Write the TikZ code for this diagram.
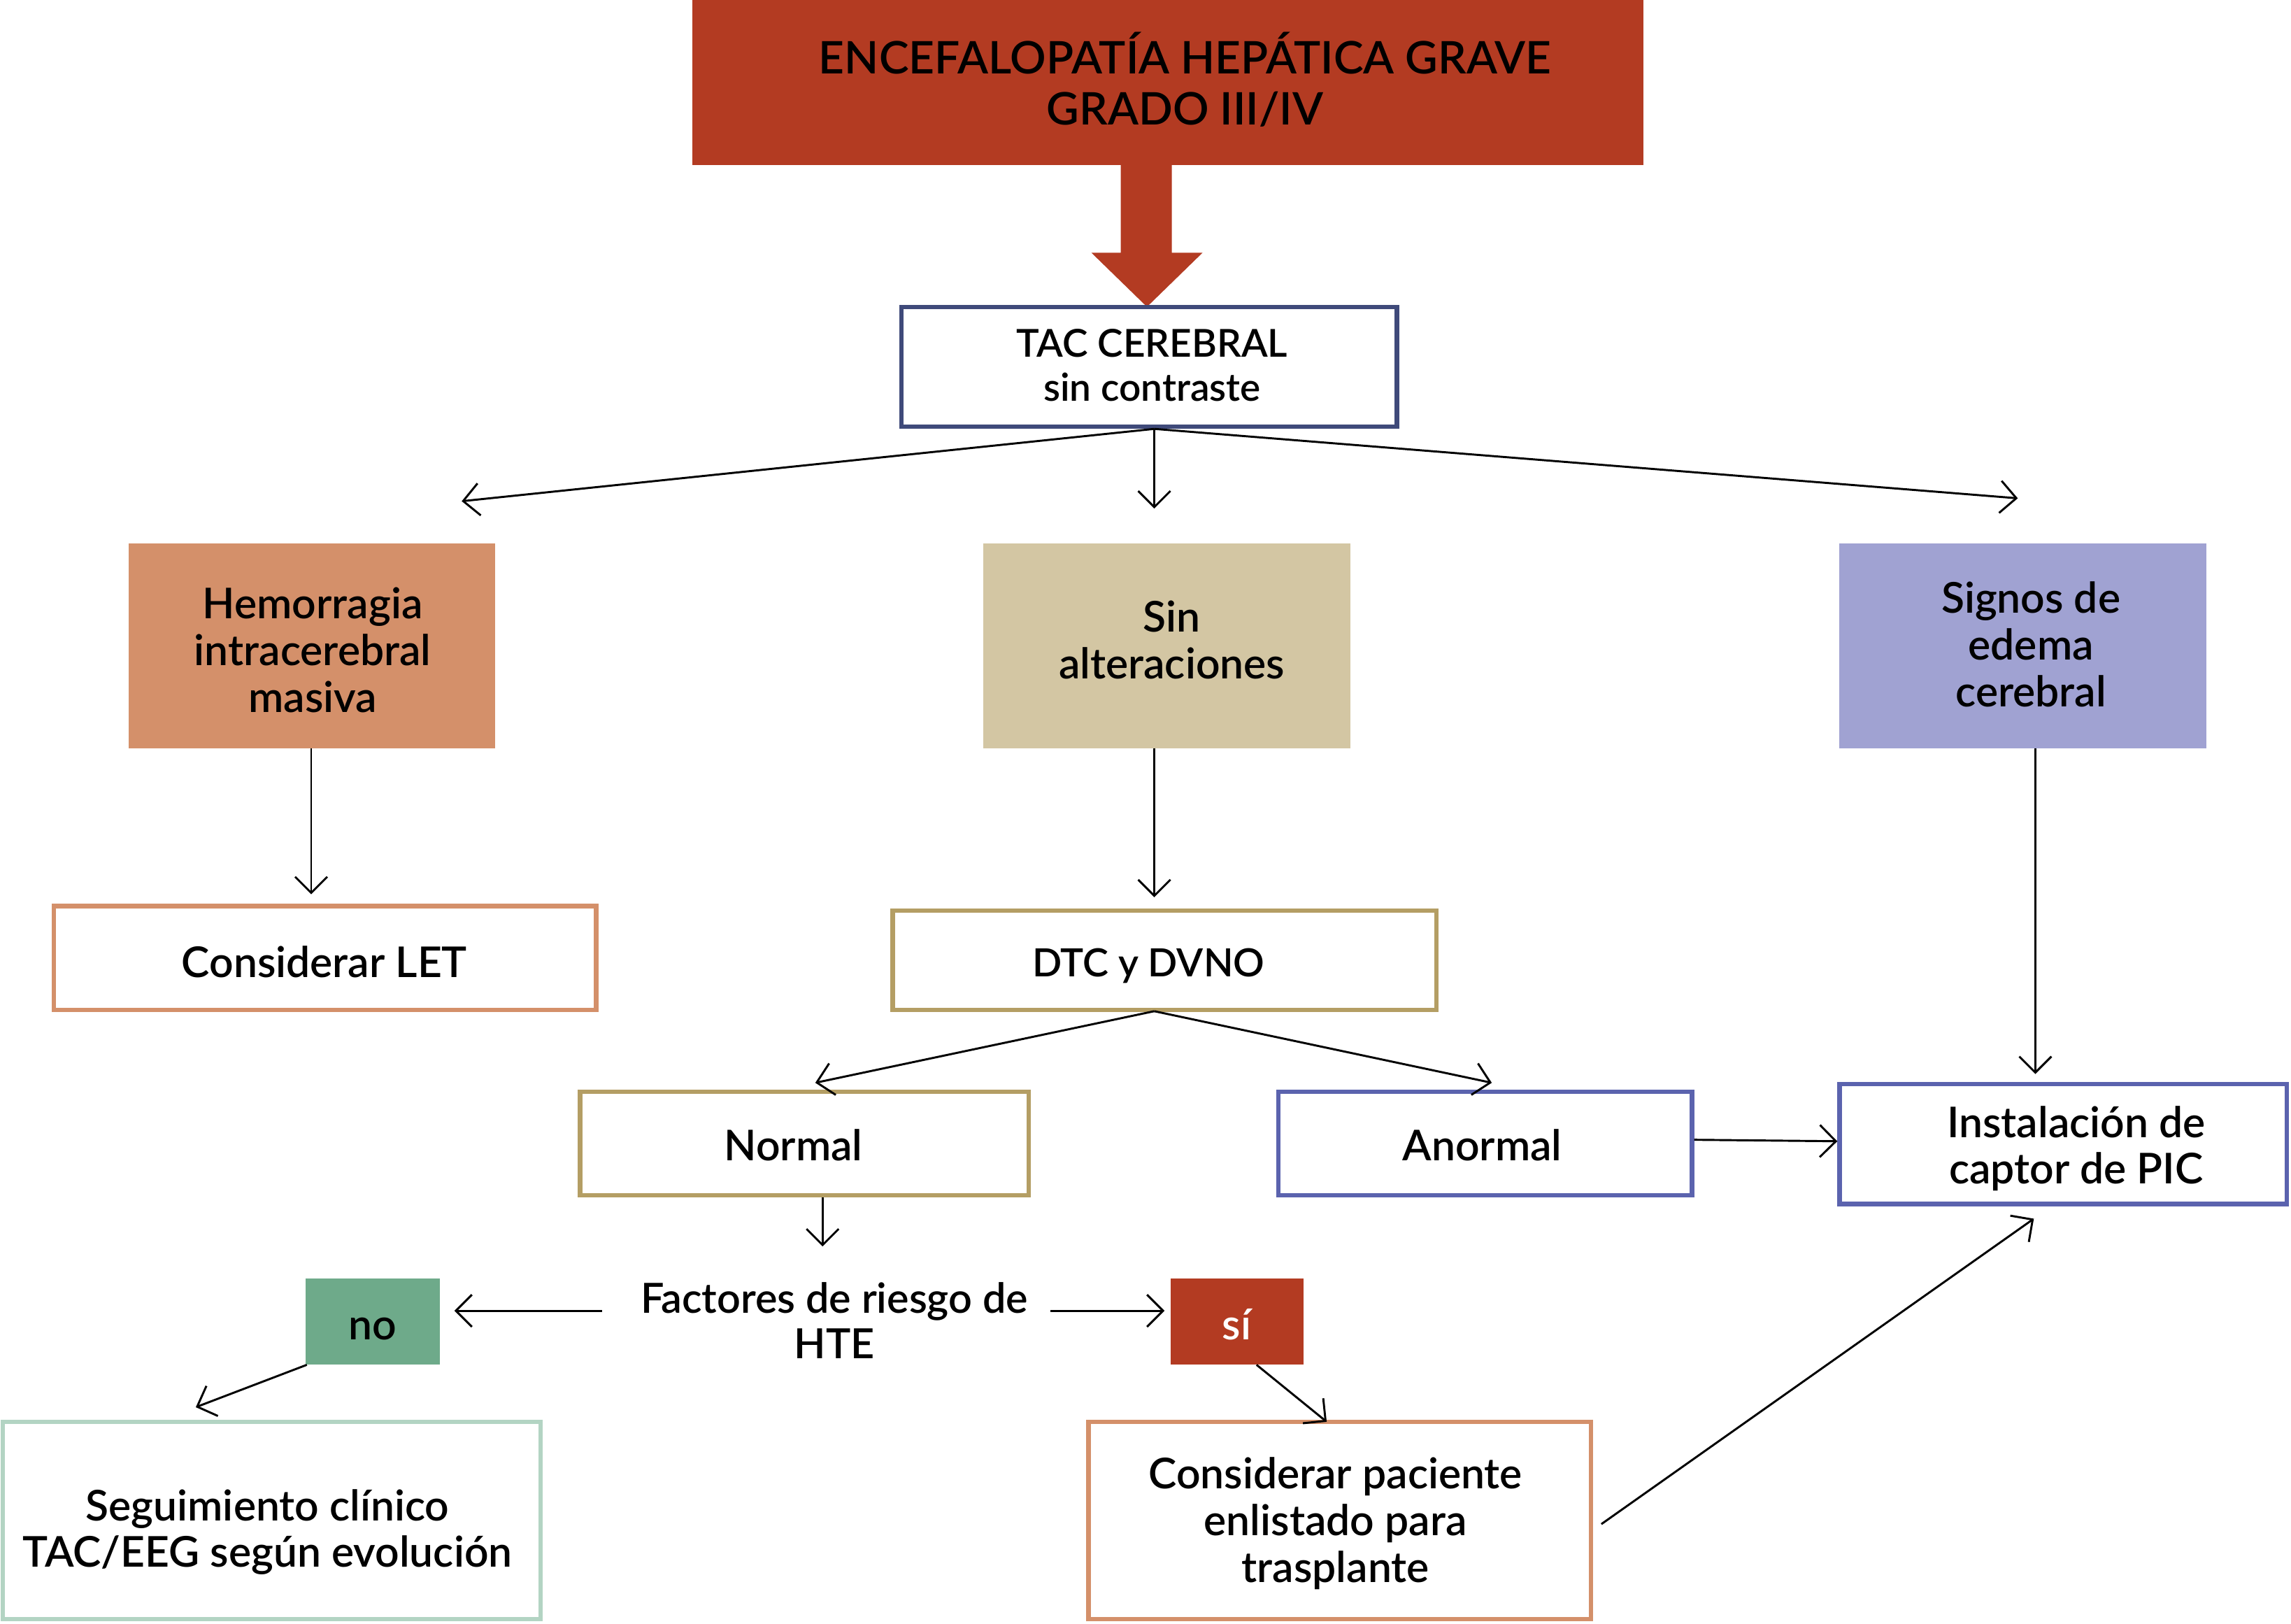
\documentclass[tikz,border=0pt]{standalone}
\usepackage{fontspec}
\setmainfont{Lato}[UprightFont={* Semibold}]
\usetikzlibrary{arrows.meta}
\definecolor{brick}{HTML}{B33B22}
\definecolor{navy}{HTML}{3F4A7A}
\definecolor{hemo}{HTML}{D4906A}
\definecolor{sand}{HTML}{D3C6A3}
\definecolor{lilac}{HTML}{A0A2D2}
\definecolor{gold}{HTML}{B49E64}
\definecolor{bluebd}{HTML}{5B63AE}
\definecolor{greenf}{HTML}{6EAA8A}
\definecolor{mint}{HTML}{B3D4C3}
\tikzset{
  txt/.style={font=\fontsize{29}{32}\selectfont, align=center, text=black, inner sep=0pt},
  fillbox/.style={draw=none, inner sep=0pt},
  linebox/.style={draw, line width=3pt, fill=white, inner sep=0pt},
  arr/.style={line width=1.4pt, -{Straight Barb[length=11pt,width=22pt,line width=1.4pt]}}
}
\begin{document}
\begin{tikzpicture}[x=1pt,y=-1pt]
\useasboundingbox (0,0) rectangle (1568,1111);
% title
\node[fillbox, fill=brick, minimum width=651pt, minimum height=113pt] (title) at (799.5,56.5) {};
\node[txt, font=\fontsize{30.7}{35}\selectfont] (titletxt) at (811,54.5) {ENCEFALOPATÍA HEPÁTICA GRAVE\\GRADO III/IV};
% big arrow
\fill[brick] (767,113) -- (767,173) -- (747,173) -- (785,210) -- (823,173) -- (802,173) -- (802,113) -- cycle;
% TAC
\node[linebox, draw=navy, minimum width=339pt, minimum height=82pt] (tac) at (786.5,251) {};
\node[txt, font=\fontsize{26.3}{30}\selectfont] (tactxt) at (788.5,250) {TAC CEREBRAL\\sin contraste};
% level 2
\node[fillbox, fill=hemo, minimum width=251pt, minimum height=140pt] (hem) at (213.5,442) {};
\node[txt] (hemtxt) at (214,445) {Hemorragia\\intracerebral\\masiva};
\node[fillbox, fill=sand, minimum width=251pt, minimum height=140pt] (sin) at (798.5,442) {};
\node[txt] (sintxt) at (802,438) {Sin\\alteraciones};
\node[fillbox, fill=lilac, minimum width=251pt, minimum height=140pt] (sig) at (1384.5,442) {};
\node[txt] (sigtxt) at (1390,441) {Signos de\\edema\\cerebral};
\coordinate (tl) at (316,343);
\coordinate (tm) at (790,348);
\coordinate (tr) at (1381,341);
\draw[arr] ([xshift=3.5pt]tac.south) -- (tl);
\draw[arr] ([xshift=3.5pt]tac.south) -- (tm);
\draw[arr] ([xshift=3.5pt]tac.south) -- (tr);
% level 3
\node[linebox, draw=hemo, minimum width=371pt, minimum height=71pt] (let) at (222.5,655.5) {};
\node[txt] (lettxt) at (222,658.5) {Considerar LET};
\node[linebox, draw=gold, minimum width=372pt, minimum height=68pt] (dtc) at (797,657) {};
\node[txt, font=\fontsize{26.6}{32}\selectfont] (dtctxt) at (786,661) {DTC y DVNO};
\node[linebox, draw=bluebd, minimum width=306pt, minimum height=82pt] (ins) at (1412,783) {};
\node[txt] (instxt) at (1421,786) {Instalación de\\captor de PIC};
\coordinate (hl) at (213,612);
\coordinate (sl) at (790,614);
\coordinate (gl) at (1393,735);
\draw[arr] ([xshift=-0.5pt]hem.south) -- (hl);
\draw[arr] ([xshift=-8.5pt]sin.south) -- (sl);
\draw[arr] ([xshift=8.5pt]sig.south) -- (gl);
% level 4
\node[linebox, draw=gold, minimum width=307pt, minimum height=71pt] (nor) at (550.5,782.5) {};
\node[txt] (nortxt) at (543,783.5) {Normal};
\node[linebox, draw=bluebd, minimum width=283pt, minimum height=71pt] (anor) at (1016.5,782.5) {};
\node[txt] (anortxt) at (1014.5,783.5) {Anormal};
\coordinate (dtcb) at (790,692);
\coordinate (nl) at (558,741);
\coordinate (al) at (1021,741);
\draw[arr] (dtcb) -- (nl);
\draw[arr] (dtcb) -- (al);
\draw[arr] ([yshift=2.5pt]anor.east) -- ([yshift=2pt]ins.west);
% factores
\node[txt, font=\fontsize{28.4}{31}\selectfont] (fac) at (571,903.5) {Factores de riesgo de\\HTE};
\coordinate (nd) at (563,853);
\draw[arr] ([xshift=12.5pt]nor.south) -- (nd);
\node[fillbox, fill=greenf, minimum width=92pt, minimum height=59pt] (no) at (255,904.5) {};
\node[txt] (notxt) at (255,909.5) {no};
\node[fillbox, fill=brick, minimum width=91pt, minimum height=59pt] (si) at (846.5,904.5) {};
\node[txt, text=white] (sitxt) at (846.5,906.5) {sí};
\coordinate (fl) at (412,897);
\coordinate (fr) at (719,897);
\coordinate (nt) at (311,897);
\coordinate (st) at (797,897);
\draw[arr] (fl) -- (nt);
\draw[arr] (fr) -- (st);
% bottom boxes
\node[linebox, draw=mint, minimum width=368pt, minimum height=135pt] (seg) at (186,1040.5) {};
\node[txt] (segtxt) at (183,1048.5) {Seguimiento clínico\\TAC/EEG según evolución};
\node[linebox, draw=hemo, minimum width=344pt, minimum height=135pt] (cons) at (917,1040.5) {};
\node[txt] (constxt) at (914,1042.5) {Considerar paciente\\enlistado para\\trasplante};
\coordinate (nb) at (210,934);
\coordinate (ntip) at (134,963);
\coordinate (sb) at (860,934);
\coordinate (stip) at (908,973);
\coordinate (cr) at (1096,1043);
\coordinate (ctip) at (1392,834);
\draw[arr] (nb) -- (ntip);
\draw[arr] (sb) -- (stip);
\draw[arr] (cr) -- (ctip);
\end{tikzpicture}
\end{document}
